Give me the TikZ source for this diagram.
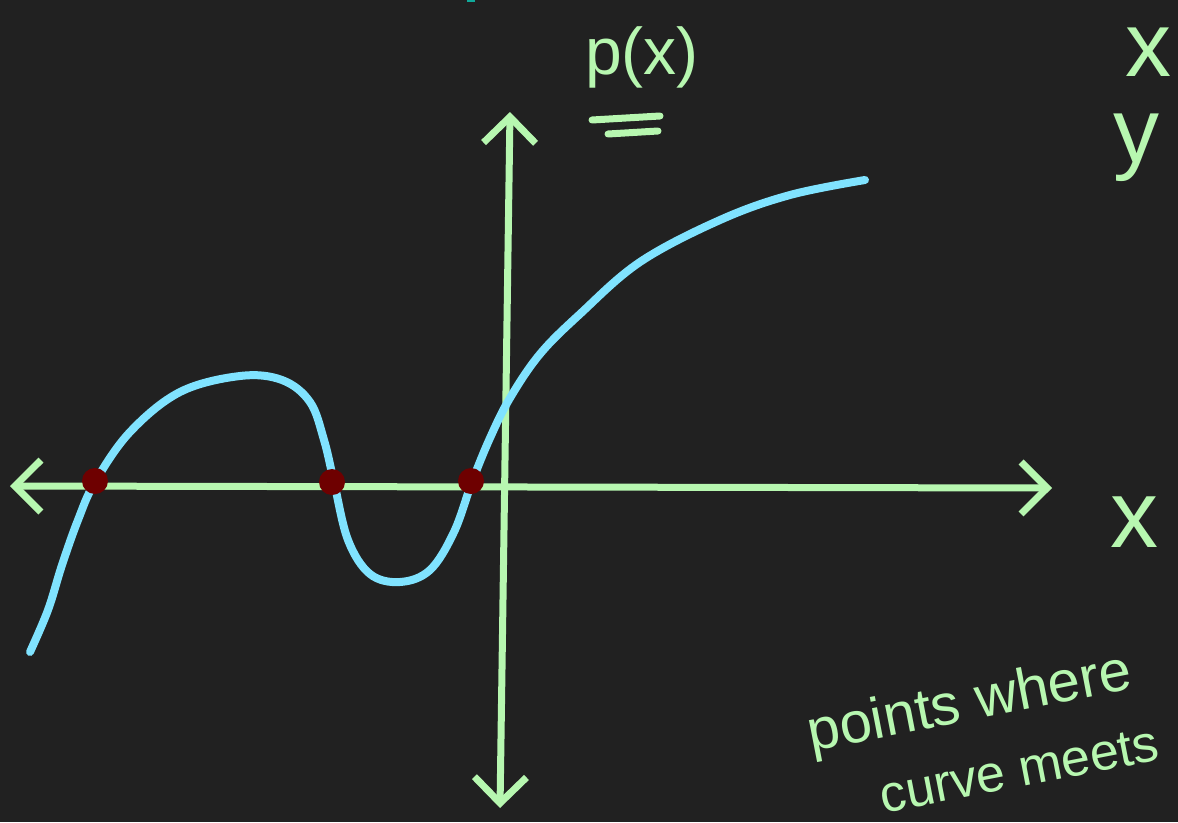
\documentclass[tikz,border=0pt]{standalone}
\usepackage{fontspec}
\setmainfont{Liberation Sans}
\usetikzlibrary{arrows.meta}
\definecolor{BoardBlack}{HTML}{212121}
\definecolor{ChalkGreen}{HTML}{B7F7B0}
\definecolor{CurveBlue}{HTML}{80E3FF}
\definecolor{RootRed}{HTML}{6E0000}
\definecolor{MarkTeal}{HTML}{10A99A}

\begin{document}
\begin{tikzpicture}[x=1pt, y=-1pt, line cap=round, line join=round,
    >={Straight Barb[length=26pt,width=52pt,line width=7pt]},
    chalk/.style={ChalkGreen, line width=7pt},
    chalktext/.style={ChalkGreen, font=\fontsize{#1}{#1}\selectfont},
    root/.style={circle, fill=RootRed, inner sep=0pt, minimum size=26pt}]
        \useasboundingbox[fill=BoardBlack] (0,0) rectangle (1178,822);
        \fill[MarkTeal] (467,0) rectangle (475,2);
        \coordinate (xneg) at (10,486);
        \coordinate (xpos) at (1052,488);
        \coordinate (ytop) at (510,112);
        \coordinate (ybot) at (500,808);
        \draw[chalk,<->] (xneg) -- (xpos);
        \draw[chalk,<->] (ybot) -- (ytop);
        \draw[CurveBlue, line width=8pt] plot[smooth, tension=0.6] coordinates {
          (30,652) (48,610) (62,565) (78,520) (95,482) (130,432) (180,392)
          (240,376) (282,380) (310,402) (324,440) (334,482) (348,540)
          (370,574) (400,582) (430,570) (454,532) (472,482) (490,438)
          (510,398) (540,354) (580,314) (640,262) (720,220) (790,195) (865,180)};
        \node[root] (r1) at (95,481) {};
        \node[root] (r2) at (332,482) {};
        \node[root] (r3) at (471,481) {};
        \node[chalktext=66, anchor=base] (px) at (642,74) {p(x)};
        \draw[chalk] (592,120) -- (660,116);
        \draw[chalk] (608,134) -- (658,131);
        \node[chalktext=92] (lx) at (1148,52) {x};
        \node[chalktext=92] (ly) at (1136,148) {y};
        \node[chalktext=96] (ax) at (1134,522) {x};
        \node[chalktext=58, rotate=11, anchor=base west] (note1) at (808,752) {points where};
        \node[chalktext=52, rotate=11, anchor=base west] (note2) at (880,814) {curve meets};
      \end{tikzpicture}
\end{document}
